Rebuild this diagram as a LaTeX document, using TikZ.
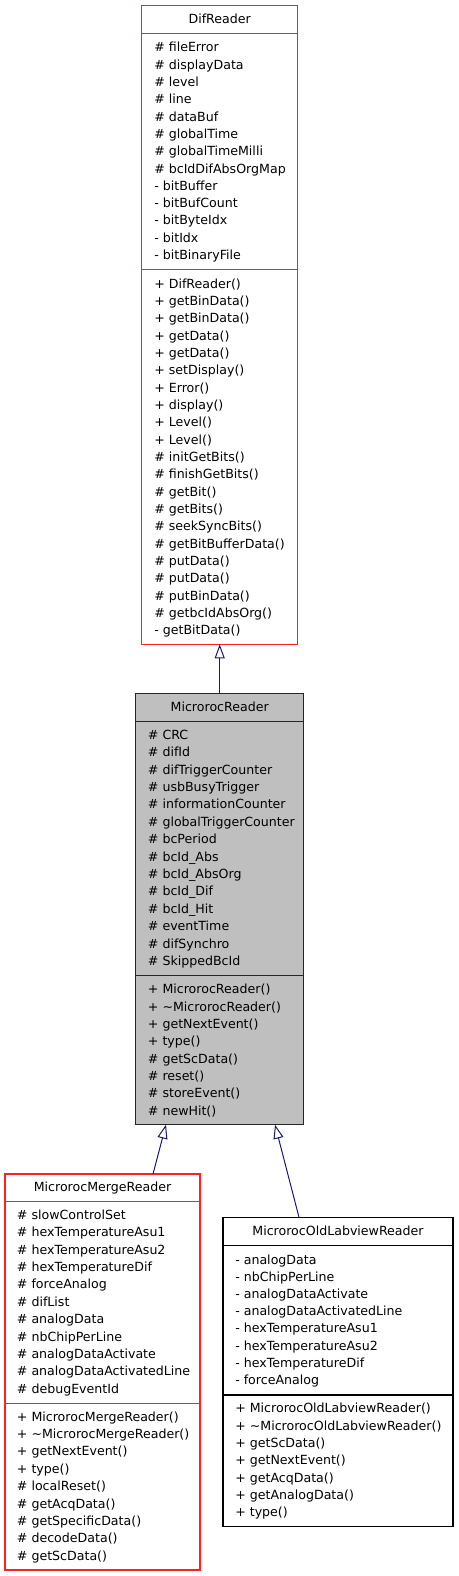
\documentclass[tikz,border=0pt]{standalone}
\usepackage{fontspec}
\setmainfont{DejaVu Sans}
\usetikzlibrary{arrows.meta,calc}
\definecolor{edgeblue}{HTML}{191970}
\definecolor{boxred}{HTML}{FF2020}
\definecolor{boxgray}{HTML}{BFBFBF}
\tikzset{
  classbox/.style={draw, line width=1pt, anchor=north west, inner sep=0pt, outer sep=0pt},
  redbox/.style={classbox, draw=boxred, fill=white},
  graybox/.style={classbox, draw=black!85, fill=boxgray},
  blackbox/.style={classbox, draw=black, fill=white},
  sepline/.style={line width=1pt},
  txt/.style={anchor=base west, inner sep=0pt, font=\fontsize{9.45}{13}\selectfont},
  ttl/.style={anchor=base, inner sep=0pt, font=\fontsize{9.45}{13}\selectfont},
  inh/.style={draw=edgeblue, line width=0.75pt, -{Triangle[open, length=10.5pt, width=7.5pt]}}
}
\begin{document}
\begin{tikzpicture}[x=0.75pt, y=-0.75pt]
\path[use as bounding box] (0,0) rectangle (459,1576);

% ---------------- DifReader ----------------
\node[redbox, minimum width=156*0.75pt, minimum height=638.6*0.75pt] (dif) at (141.7,5.7) {};
\draw[boxred, sepline] (141.7,33.7) -- (297.7,33.7);
\draw[boxred, sepline] (141.7,269.3) -- (297.7,269.3);
\node[ttl] (dift) at (219.7,23.3) {DifReader};
\foreach \t [count=\i from 0] in {\# fileError,\# displayData,\# level,\# line,\# dataBuf,\# globalTime,\# globalTimeMilli,\# bcIdDifAbsOrgMap,- bitBuffer,- bitBufCount,- bitByteIdx,- bitIdx,- bitBinaryFile}
  \node[txt] (difa\i) at (154,51.7+\i*17.33) {\t};
\foreach \t [count=\i from 0] in {+ DifReader(),+ getBinData(),+ getBinData(),+ getData(),+ getData(),+ setDisplay(),+ Error(),+ display(),+ Level(),+ Level(),\# initGetBits(),\# finishGetBits(),\# getBit(),\# getBits(),\# seekSyncBits(),\# getBitBufferData(),\# putData(),\# putData(),\# putBinData(),\# getbcIdAbsOrg(),- getBitData()}
  \node[txt] (difm\i) at (154,288.3+\i*17.33) {\t};

% ---------------- MicrorocReader ----------------
\node[graybox, minimum width=168*0.75pt, minimum height=431.2*0.75pt] (mic) at (135.7,693.5) {};
\draw[black!85, sepline] (135.7,721.7) -- (303.7,721.7);
\draw[black!85, sepline] (135.7,975.3) -- (303.7,975.3);
\node[ttl] (mict) at (219.7,711.7) {MicrorocReader};
\foreach \t [count=\i from 0] in {\# CRC,\# difId,\# difTriggerCounter,\# usbBusyTrigger,\# informationCounter,\# globalTriggerCounter,\# bcPeriod,\# bcId\_Abs,\# bcId\_AbsOrg,\# bcId\_Dif,\# bcId\_Hit,\# eventTime,\# difSynchro,\# SkippedBcId}
  \node[txt] (mica\i) at (147.7,739.3+\i*17.41) {\t};
\foreach \t [count=\i from 0] in {+ MicrorocReader(),+ \textasciitilde MicrorocReader(),+ getNextEvent(),+ type(),\# getScData(),\# reset(),\# storeEvent(),\# newHit()}
  \node[txt] (micm\i) at (147.7,993.7+\i*17.33) {\t};

% ---------------- MicrorocMergeReader ----------------
\node[redbox, minimum width=195*0.75pt, minimum height=396*0.75pt] (mer) at (5,1174) {};
\draw[boxred, sepline] (5,1201.7) -- (200,1201.7);
\draw[boxred, sepline] (5,1403.3) -- (200,1403.3);
\node[ttl] (mert) at (102.5,1191.7) {MicrorocMergeReader};
\foreach \t [count=\i from 0] in {\# slowControlSet,\# hexTemperatureAsu1,\# hexTemperatureAsu2,\# hexTemperatureDif,\# forceAnalog,\# difList,\# analogData,\# nbChipPerLine,\# analogDataActivate,\# analogDataActivatedLine,\# debugEventId}
  \node[txt] (mera\i) at (16.7,1219.3+\i*17.4) {\t};
\foreach \t [count=\i from 0] in {+ MicrorocMergeReader(),+ \textasciitilde MicrorocMergeReader(),+ getNextEvent(),+ type(),\# localReset(),\# getAcqData(),\# getSpecificData(),\# decodeData(),\# getScData()}
  \node[txt] (merm\i) at (16.7,1421+\i*17.4) {\t};

% ---------------- MicrorocOldLabviewReader ----------------
\node[blackbox, minimum width=230*0.75pt, minimum height=309.4*0.75pt] (old) at (223,1217.3) {};
\draw[black, sepline] (223,1245.7) -- (453,1245.7);
\draw[black, sepline] (223,1395) -- (453,1395);
\node[ttl] (oldt) at (338,1235.7) {MicrorocOldLabviewReader};
\foreach \t [count=\i from 0] in {- analogData,- nbChipPerLine,- analogDataActivate,- analogDataActivatedLine,- hexTemperatureAsu1,- hexTemperatureAsu2,- hexTemperatureDif,- forceAnalog}
  \node[txt] (olda\i) at (235,1264+\i*17.2) {\t};
\foreach \t [count=\i from 0] in {+ MicrorocOldLabviewReader(),+ \textasciitilde MicrorocOldLabviewReader(),+ getScData(),+ getNextEvent(),+ getAcqData(),+ getAnalogData(),+ type()}
  \node[txt] (oldm\i) at (235,1412.7+\i*17.33) {\t};

% ---------------- inheritance ----------------
\draw[inh] (mic.north) -- (dif.south);
\draw[inh] ($(mer.north)+(50.5,0)$) -- ($(mic.south)+(-53.7,0)$);
\draw[inh] ($(old.north)+(-39,0)$) -- ($(mic.south)+(55.3,0)$);
\end{tikzpicture}
\end{document}
